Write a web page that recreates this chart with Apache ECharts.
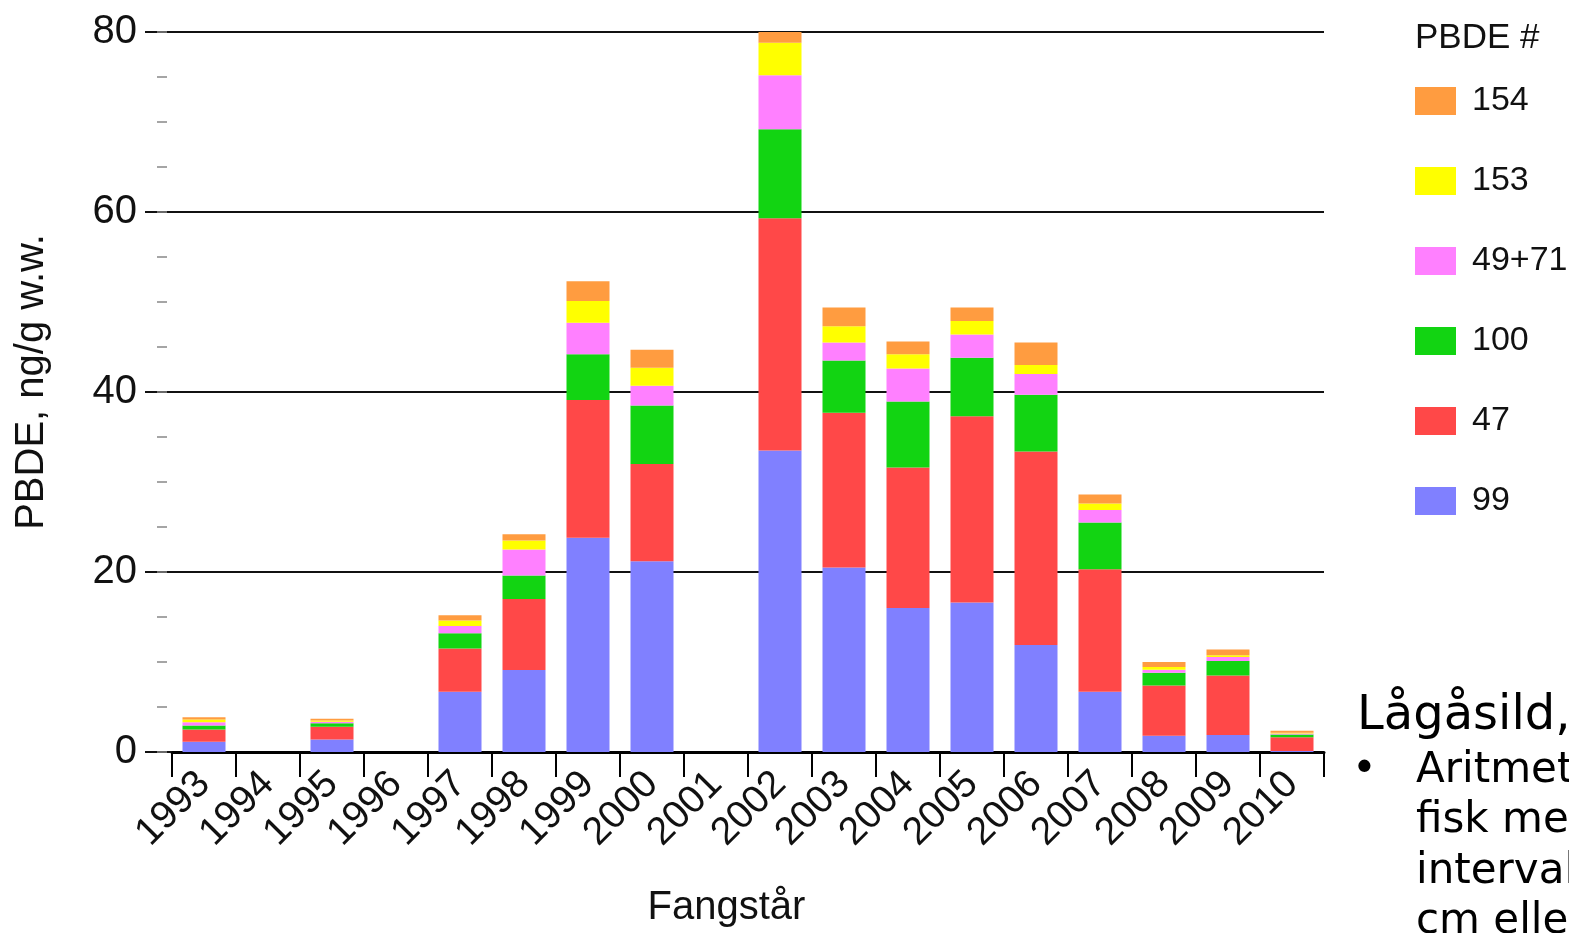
<!DOCTYPE html>
<html>
<head>
<meta charset="utf-8">
<script src="https://cdn.jsdelivr.net/npm/echarts@6/dist/echarts.min.js"></script>
<style>
html,body{margin:0;padding:0;background:#fff;}
#c{width:1569px;height:933px;}
</style>
</head>
<body>
<div id="c"></div>
<script>
const years = ['1993','1994','1995','1996','1997','1998','1999','2000','2001','2002','2003','2004','2005','2006','2007','2008','2009','2010'];
const s99   = [1.15, null, 1.4, null, 6.7, 9.1, 23.8, 21.2, null, 33.5, 20.5, 16.0, 16.6, 11.9, 6.7, 1.8, 1.9, 0.1];
const s47   = [1.35, null, 1.4, null, 4.8, 7.9, 15.3, 10.8, null, 25.8, 17.2, 15.6, 20.7, 21.5, 13.6, 5.6, 6.6, 1.55];
const s100  = [0.45, null, 0.4, null, 1.7, 2.6, 5.1, 6.5, null, 9.9, 5.8, 7.35, 6.5, 6.3, 5.2, 1.4, 1.6, 0.3];
const s4971 = [0.35, null, 0.15, null, 0.8, 2.9, 3.5, 2.2, null, 6.0, 2.0, 3.65, 2.6, 2.3, 1.4, 0.35, 0.45, 0.1];
const s153  = [0.3, null, 0.15, null, 0.6, 1.0, 2.4, 2.0, null, 3.6, 1.8, 1.6, 1.5, 1.0, 0.7, 0.3, 0.2, 0.1];
const s154  = [0.25, null, 0.2, null, 0.6, 0.7, 2.2, 2.0, null, 1.5, 2.1, 1.4, 1.5, 2.5, 1.0, 0.55, 0.65, 0.2];
const yTicks = [0, 20, 40, 60, 80];
const legendOrder = ['154','153','49+71','100','47','99'];
const noteTitle = 'Lågåsild,';
const noteLines = ['Aritmetisk', 'fisk med', 'intervall', 'cm eller'];

const FONT = '"Liberation Sans", Arial, Helvetica, sans-serif';
const NOTEFONT = '"DejaVu Sans", Verdana, sans-serif';
const seriesDefs = [
  {name:'99', data:s99, color:'#8080FF'},
  {name:'47', data:s47, color:'#FF4848'},
  {name:'100', data:s100, color:'#12D412'},
  {name:'49+71', data:s4971, color:'#FF80FF'},
  {name:'153', data:s153, color:'#FFFF00'},
  {name:'154', data:s154, color:'#FF9C40'}
];

const chart = echarts.init(document.getElementById('c'), null, {renderer:'canvas'});
const graphics = [
  {type:'text', left:1415, top:21, style:{text:'PBDE #', fontSize:35, fontFamily:FONT, fill:'#111'}},
  {type:'text', style:{text:noteTitle, x:1357, y:717, fontSize:48, fontFamily:NOTEFONT, fill:'#000', verticalAlign:'middle'}},
  {type:'text', style:{text:'•', x:1352, y:771, fontSize:42, fontFamily:NOTEFONT, fill:'#000', verticalAlign:'middle'}}
];
noteLines.forEach((t, i) => {
  graphics.push({type:'text', style:{text:t, x:1416, y:771 + i*50.5, fontSize:42, fontFamily:NOTEFONT, fill:'#000', verticalAlign:'middle'}});
});

chart.setOption({
  backgroundColor:'#fff',
  animation:false,
  grid:{left:172, right:245, top:32, bottom:181, containLabel:false},
  legend:{
    data:legendOrder, orient:'vertical', left:1415, top:84, padding:0,
    itemWidth:41, itemHeight:28, itemGap:46, icon:'rect', selectedMode:false,
    textStyle:{fontSize:34, color:'#111', fontFamily:FONT, padding:[0,0,0,11]}
  },
  xAxis:{
    type:'category', data:years, boundaryGap:true,
    name:'Fangstår', nameLocation:'middle', nameGap:136,
    nameTextStyle:{fontSize:40, color:'#111', fontFamily:FONT, padding:[0,43,0,0]},
    axisLine:{show:true, lineStyle:{color:'#000', width:3}},
    axisTick:{show:true, alignWithLabel:false, length:25, lineStyle:{color:'#000', width:2}},
    axisLabel:{rotate:45, fontSize:39, color:'#111', fontFamily:FONT, margin:26, interval:0},
    splitLine:{show:false}
  },
  yAxis:[{
    type:'value', min:yTicks[0], max:yTicks[yTicks.length-1], interval:20,
    name:'PBDE, ng/g w.w.', nameLocation:'middle', nameGap:120,
    nameTextStyle:{fontSize:40, color:'#111', fontFamily:FONT, padding:[0,0,0,20]},
    axisLine:{show:false},
    axisTick:{show:true, length:27, lineStyle:{color:'#111', width:2}},
    axisLabel:{fontSize:40, color:'#111', fontFamily:FONT, margin:35},
    splitLine:{show:true, lineStyle:{color:'#111', width:2}}
  },{
    type:'value', min:0, max:80, interval:5, position:'left', offset:5,
    axisLine:{show:false}, axisLabel:{show:false}, splitLine:{show:false},
    axisTick:{show:true, length:10, lineStyle:{color:'#888', width:1.5}}
  }],
  series: seriesDefs.map(s => ({
    name:s.name, type:'bar', stack:'total', data:s.data, barWidth:43, yAxisIndex:0,
    itemStyle:{color:s.color}
  })),
  graphic:graphics
});
</script>
</body>
</html>
